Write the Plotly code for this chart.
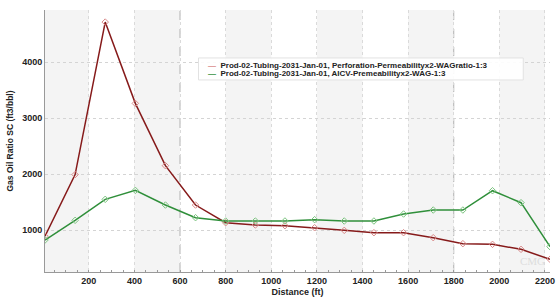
import plotly.graph_objects as go

distance = [8, 140, 272, 404, 536, 668, 800, 930, 1060, 1190, 1320, 1450, 1580, 1710, 1840, 1970, 2095, 2222]
gor_perforation = [890, 1990, 4714, 3262, 2149, 1446, 1130, 1089, 1077, 1041, 994, 952, 952, 863, 756, 744, 655, 477]
gor_aicv = [821, 1173, 1548, 1708, 1446, 1220, 1160, 1161, 1161, 1185, 1161, 1161, 1286, 1357, 1357, 1702, 1488, 702]

name_perf = "Prod-02-Tubing-2031-Jan-01, Perforation-Permeabilityx2-WAGratio-1:3"
name_aicv = "Prod-02-Tubing-2031-Jan-01, AICV-Premeabilityx2-WAG-1:3"
x_ticks = [200, 400, 600, 800, 1000, 1200, 1400, 1600, 1800, 2000, 2200]
y_ticks = [1000, 2000, 3000, 4000]

red = "#861a1a"
red_marker = "#d98a8a"
green = "#2f8f3a"
green_marker = "#7cc47f"

fig = go.Figure()
fig.add_trace(go.Scatter(x=distance, y=gor_perforation, mode="lines+markers", name=name_perf,
                         line=dict(color=red, width=1.5),
                         marker=dict(symbol="diamond-open", size=5, color=red_marker, line=dict(width=1))))
fig.add_trace(go.Scatter(x=distance, y=gor_aicv, mode="lines+markers", name=name_aicv,
                         line=dict(color=green, width=1.5),
                         marker=dict(symbol="diamond-open", size=5, color=green_marker, line=dict(width=1))))

shapes = []
for x0 in range(0, 2200, 400):
    shapes.append(dict(type="rect", xref="x", yref="paper", x0=x0, x1=x0 + 200, y0=0, y1=1,
                       fillcolor="#f4f4f4", line=dict(width=0), layer="below"))
for xv in [600, 1800]:
    shapes.append(dict(type="line", xref="x", yref="paper", x0=xv, x1=xv, y0=0, y1=1,
                       line=dict(color="#b0b0b0", width=1, dash="dash"), layer="below"))
# legend box
shapes.append(dict(type="rect", xref="paper", yref="paper", x0=0.304, x1=0.947, y0=0.733, y1=0.817,
                   fillcolor="rgba(255,255,255,0.9)", line=dict(color="#e2e2e2", width=1)))

annotations = [
    dict(xref="paper", yref="paper", x=0.318, y=0.790, xanchor="left", yanchor="middle", showarrow=False,
         text=f"<span style='color:{red_marker}'><b>—</b></span>  <b>{name_perf}</b>",
         font=dict(family="Arial, Liberation Sans", size=8, color="#222")),
    dict(xref="paper", yref="paper", x=0.318, y=0.758, xanchor="left", yanchor="middle", showarrow=False,
         text=f"<span style='color:{green}'><b>—</b></span>  <b>{name_aicv}</b>",
         font=dict(family="Arial, Liberation Sans", size=8, color="#222")),
    dict(xref="paper", yref="paper", x=0.995, y=0.01, xanchor="right", yanchor="bottom", showarrow=False,
         text="CMG", font=dict(family="Liberation Serif", size=11, color="#dddddd")),
]

fig.update_layout(
    width=557, height=299,
    margin=dict(l=45, r=2, t=10, b=27),
    paper_bgcolor="white", plot_bgcolor="white",
    showlegend=False,
    shapes=shapes, annotations=annotations,
    font=dict(family="Arial, Liberation Sans", size=9, color="#222"),
)
fig.update_xaxes(range=[8, 2222], tickvals=x_ticks, ticktext=[f"<b>{v}</b>" for v in x_ticks],
                 tickfont=dict(size=9), ticklabeloverflow="allow",
                 title=dict(text="<b>Distance (ft)</b>", font=dict(size=9), standoff=3),
                 showgrid=True, gridcolor="#dadada", griddash="dot", gridwidth=1,
                 showline=True, linecolor="#999", linewidth=1, ticks="", zeroline=False,
                 minor=dict(ticks="inside", ticklen=2, tickcolor="#999", dtick=50, showgrid=False))
fig.update_yaxes(range=[250, 4930], tickvals=y_ticks, ticktext=[f"<b>{v}</b>" for v in y_ticks],
                 tickfont=dict(size=9),
                 title=dict(text="<b>Gas Oil Ratio SC (ft3/bbl)</b>", font=dict(size=8.5), standoff=7),
                 showgrid=True, gridcolor="#d4d4d4", griddash="dot", gridwidth=1,
                 showline=True, linecolor="#999", linewidth=1, ticks="", zeroline=False)

fig.write_html("out.html", config={"displayModeBar": False},
               post_script="document.body.style.margin='0';document.body.style.overflow='hidden';")
